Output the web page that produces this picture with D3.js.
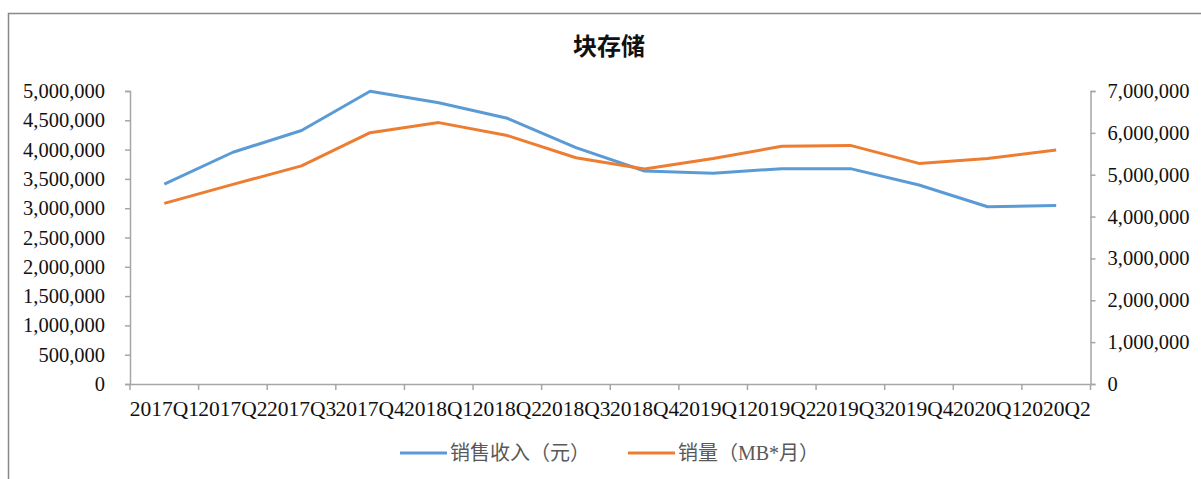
<!DOCTYPE html>
<html><head><meta charset="utf-8">
<script src="https://cdn.jsdelivr.net/npm/d3@7"></script>
<style>body{margin:0;background:#fff}svg{display:block}</style>
</head><body>
<script>
const categories = ["2017Q1","2017Q2","2017Q3","2017Q4","2018Q1","2018Q2","2018Q3","2018Q4","2019Q1","2019Q2","2019Q3","2019Q4","2020Q1","2020Q2"];
const revenue = [3410000,3955000,4325000,4995000,4800000,4535000,4035000,3635000,3595000,3675000,3675000,3395000,3025000,3045000];
const volume = [4315000,4770000,5210000,6005000,6245000,5935000,5405000,5135000,5385000,5680000,5700000,5270000,5385000,5590000];
const leftTicks = [0,500000,1000000,1500000,2000000,2500000,3000000,3500000,4000000,4500000,5000000];
const rightTicks = [0,1000000,2000000,3000000,4000000,5000000,6000000,7000000];
const seriesNames = ["销售收入（元）","销量（MB*月）"];
const colors = ["#5B9BD5","#ED7D31"];

const W=1201,H=479;
const m={left:130,right:1090.5,top:91,bottom:384};
const svg=d3.select("body").append("svg").attr("width",W).attr("height",H);
svg.append("rect").attr("x",8.5).attr("y",13.5).attr("width",1300).attr("height",600).attr("fill","#fff").attr("stroke","#898989").attr("stroke-width",1.5);

svg.append("text").attr("x",609).attr("y",55).attr("text-anchor","middle")
  .attr("font-family","'Noto Sans CJK SC'").attr("font-weight","bold").attr("font-size",24).attr("fill","#111").text("块存储");

const x=d3.scaleBand().domain(categories).range([m.left,m.right]);
const yL=d3.scaleLinear().domain([0,5000000]).range([m.bottom,m.top]);
const yR=d3.scaleLinear().domain([0,7000000]).range([m.bottom,m.top]);
const fmt=d3.format(",");
const tickFont="'Liberation Serif', 'Times New Roman', serif";
const axisColor="#a6a6a6";

const gL=svg.append("g").attr("transform",`translate(${m.left},0)`)
  .call(d3.axisLeft(yL).tickValues(leftTicks).tickFormat(fmt).tickSizeOuter(0).tickSize(5).tickPadding(20));
const gR=svg.append("g").attr("transform",`translate(${m.right},0)`)
  .call(d3.axisRight(yR).tickValues(rightTicks).tickFormat(fmt).tickSizeOuter(0).tickSize(5).tickPadding(12));
const gX=svg.append("g").attr("transform",`translate(0,${m.bottom})`)
  .call(d3.axisBottom(x).tickSize(0).tickPadding(17));
const bounds=categories.map(c=>x(c)).concat([m.right]);
gX.selectAll("line.b").data(bounds).enter().append("line").attr("class","b")
  .attr("x1",d=>d).attr("x2",d=>d).attr("y1",0).attr("y2",6).attr("stroke",axisColor).attr("stroke-width",1.5);
[gL,gR,gX].forEach(g=>{
  g.selectAll("path.domain").attr("stroke",axisColor).attr("stroke-width",1.5);
  g.selectAll(".tick line").attr("stroke",axisColor).attr("stroke-width",1.5);
  g.selectAll("text").attr("font-family",tickFont).attr("font-size",20.5).attr("fill","#111");
});
gX.selectAll("text").attr("font-size",21.5);

const lineL=d3.line().x((d,i)=>x(categories[i])+x.bandwidth()/2).y(d=>yL(d));
const lineR=d3.line().x((d,i)=>x(categories[i])+x.bandwidth()/2).y(d=>yR(d));
svg.append("path").datum(revenue).attr("d",lineL).attr("fill","none").attr("stroke",colors[0]).attr("stroke-width",3).attr("stroke-linejoin","round");
svg.append("path").datum(volume).attr("d",lineR).attr("fill","none").attr("stroke",colors[1]).attr("stroke-width",3).attr("stroke-linejoin","round");

const legX=[400,628];
seriesNames.forEach((n,i)=>{
  svg.append("line").attr("x1",legX[i]).attr("x2",legX[i]+47).attr("y1",453).attr("y2",453).attr("stroke",colors[i]).attr("stroke-width",3);
  svg.append("text").attr("x",legX[i]+50).attr("y",460).attr("font-family","'Liberation Serif', 'Noto Sans CJK SC'").attr("font-size",20).attr("fill","#595959").text(n);
});
</script>
</body></html>
